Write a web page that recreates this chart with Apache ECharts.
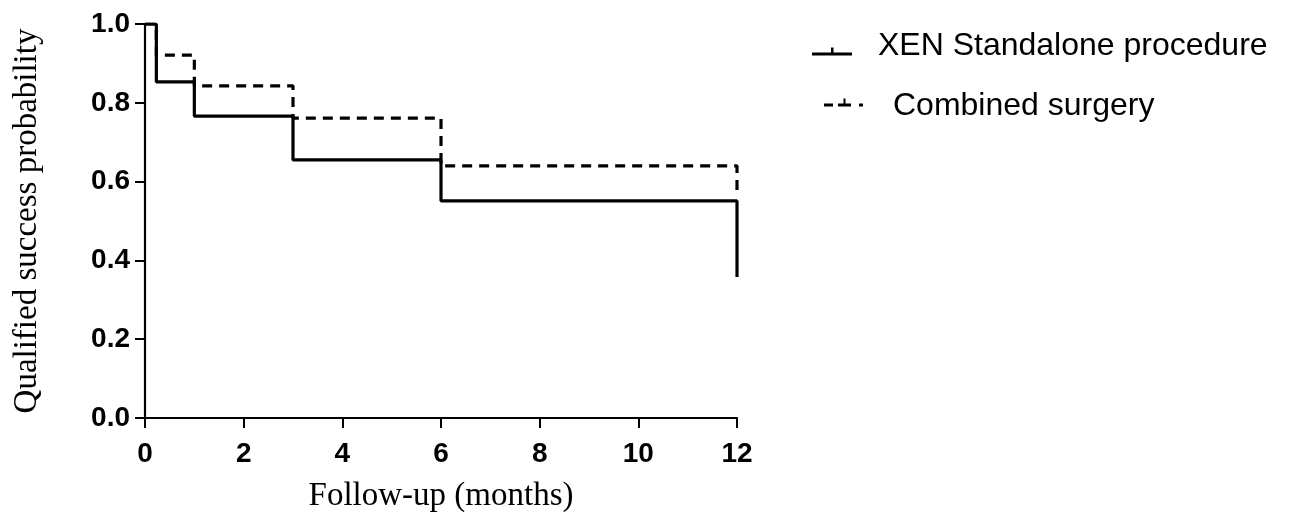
<!DOCTYPE html>
<html>
<head>
<meta charset="utf-8">
<script src="https://cdn.jsdelivr.net/npm/echarts@6/dist/echarts.min.js"></script>
<style>html,body{margin:0;padding:0;background:#fff;}#c{width:1291px;height:523px;}</style>
</head>
<body>
<div id="c"></div>
<script>
// Kaplan-Meier steps: [month, probability] at each drop
const seriesNames = ['XEN Standalone procedure', 'Combined surgery'];
const standaloneSteps = [[0, 1.0], [0.23, 0.853], [1, 0.766], [3, 0.655], [6, 0.551], [12, 0.358]];
const combinedSteps = [[0, 1.0], [0.23, 0.921], [1, 0.843], [3, 0.761], [6, 0.640], [12, 0.575]];
const xTicks = [0, 2, 4, 6, 8, 10, 12];
const yTicks = [0.0, 0.2, 0.4, 0.6, 0.8, 1.0];
const xAxisTitle = 'Follow-up (months)';
const yAxisTitle = 'Qualified success probability';

const chart = echarts.init(document.getElementById('c'), null, {renderer: 'canvas'});
const tickFont = {fontFamily: 'Liberation Sans, Arial', fontWeight: 'bold', fontSize: 28, color: '#000'};
// legend glyphs: line with a small censor tick; a near-invisible dot sets the icon's box
const solidIcon = 'path://M0 0L0.01 0L0.01 0.01L0 0.01Z M0 16L40 16L40 19.2L0 19.2Z M19 11L21.5 11L21.5 16L19 16Z';
const dashIcon = 'path://M0 15.19L0.01 15.19L0.01 15.2L0 15.2Z M0 5L9 5L9 8.2L0 8.2Z M14 5L27 5L27 8.2L14 8.2Z M19.5 0L21.5 0L21.5 5L19.5 5Z M35 5L39 5L39 8.2L35 8.2Z';
chart.setOption({
  animation: false,
  backgroundColor: '#fff',
  grid: {left: 145, right: 554, top: 24, bottom: 105},
  legend: [
    {data: [{name: seriesNames[0], icon: solidIcon}], orient: 'vertical', left: 812, top: 30, padding: 0,
     itemWidth: 40, itemHeight: 19.2, itemStyle: {color: '#000'},
     textStyle: {fontFamily: 'Liberation Sans, Arial', fontSize: 32, color: '#000', padding: [0, 0, 0, 21]}},
    {data: [{name: seriesNames[1], icon: dashIcon}], orient: 'vertical', left: 824, top: 90, padding: 0,
     itemWidth: 39, itemHeight: 15.2, itemStyle: {color: '#000'},
     textStyle: {fontFamily: 'Liberation Sans, Arial', fontSize: 32, color: '#000', padding: [0, 0, 0, 25]}}
  ],
  xAxis: {
    type: 'value', min: 0, max: 12, interval: 2,
    name: xAxisTitle, nameLocation: 'middle', nameGap: 62,
    nameTextStyle: {fontFamily: 'Liberation Serif, Times New Roman', fontSize: 33, color: '#000'},
    axisLine: {show: true, onZero: false, lineStyle: {color: '#000', width: 2.2}},
    axisTick: {show: true, length: 10, lineStyle: {color: '#000', width: 2}},
    axisLabel: Object.assign({margin: 22, formatter: v => xTicks.includes(v) ? String(v) : ''}, tickFont),
    splitLine: {show: false}
  },
  yAxis: {
    type: 'value', min: 0, max: 1, interval: 0.2,
    name: yAxisTitle, nameLocation: 'middle', nameGap: 101,
    nameTextStyle: {fontFamily: 'Liberation Serif, Times New Roman', fontSize: 33, color: '#000'},
    axisLine: {show: true, lineStyle: {color: '#000', width: 2.2}},
    axisTick: {show: true, length: 10, lineStyle: {color: '#000', width: 2}},
    axisLabel: Object.assign({margin: 15, formatter: v => {
      const t = yTicks.find(y => Math.abs(y - v) < 1e-6);
      return t === undefined ? '' : t.toFixed(1);
    }}, tickFont),
    splitLine: {show: false}
  },
  series: [
    {name: seriesNames[0], type: 'line', step: 'end', data: standaloneSteps, showSymbol: false, symbol: 'none',
     lineStyle: {color: '#000', width: 3.2, type: 'solid'}, itemStyle: {color: '#000'}},
    {name: seriesNames[1], type: 'line', step: 'end', data: combinedSteps, showSymbol: false, symbol: 'none',
     lineStyle: {color: '#000', width: 3.2, type: [10, 7]}, itemStyle: {color: '#000'}}
  ]
});
</script>
</body>
</html>
